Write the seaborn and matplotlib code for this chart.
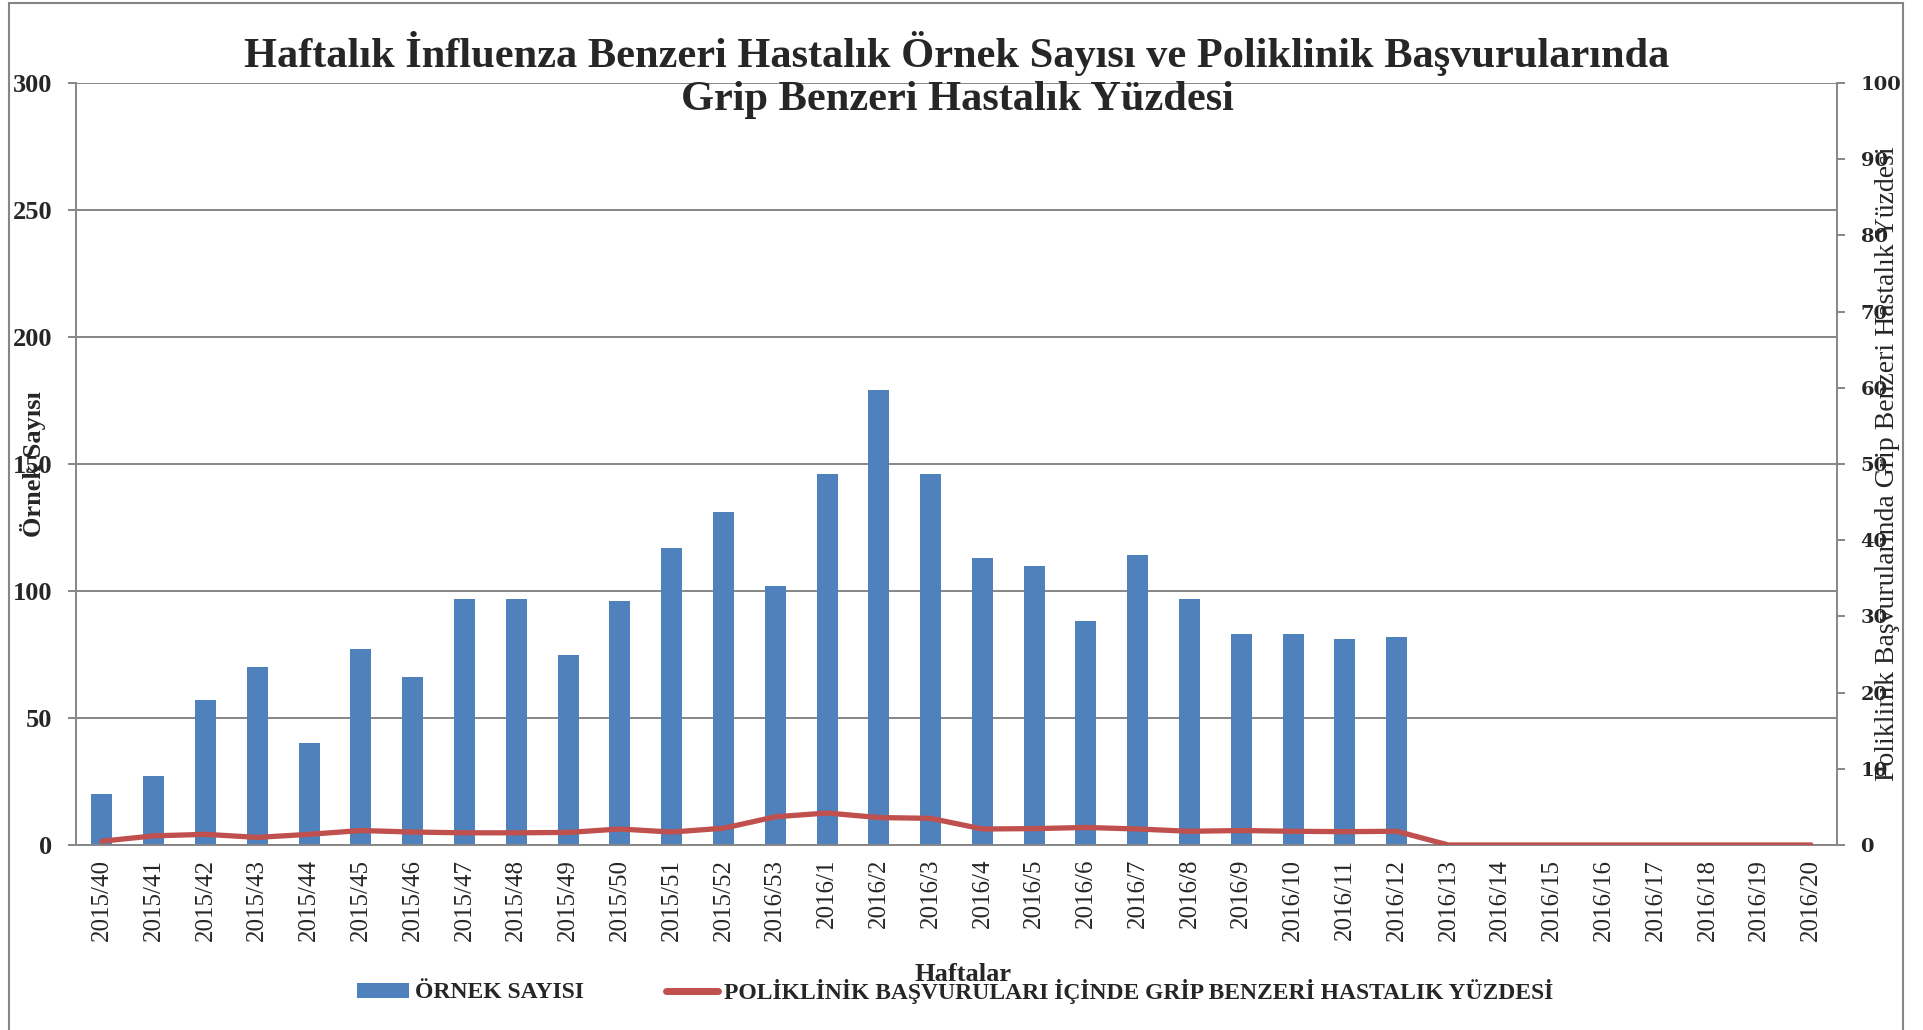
import numpy as np
import pandas as pd
import matplotlib
matplotlib.use("Agg")
import matplotlib.pyplot as plt
import seaborn as sns
from matplotlib.patches import Rectangle
from matplotlib.lines import Line2D
from matplotlib.patches import Patch

weeks = ["2015/40", "2015/41", "2015/42", "2015/43", "2015/44", "2015/45", "2015/46",
         "2015/47", "2015/48", "2015/49", "2015/50", "2015/51", "2015/52", "2016/53",
         "2016/1", "2016/2", "2016/3", "2016/4", "2016/5", "2016/6", "2016/7", "2016/8",
         "2016/9", "2016/10", "2016/11", "2016/12", "2016/13", "2016/14", "2016/15",
         "2016/16", "2016/17", "2016/18", "2016/19", "2016/20"]
sample_counts = [20, 27, 57, 70, 40, 77, 66, 97, 97, 75, 96, 117, 131, 102,
                 146, 179, 146, 113, 110, 88, 114, 97, 83, 83, 81, 82,
                 0, 0, 0, 0, 0, 0, 0, 0]
ili_percent = [0.5, 1.2, 1.4, 1.0, 1.4, 1.9, 1.7, 1.6, 1.6, 1.65, 2.1, 1.7, 2.2, 3.7,
               4.2, 3.6, 3.5, 2.1, 2.15, 2.3, 2.1, 1.8, 1.9, 1.8, 1.75, 1.8,
               0, 0, 0, 0, 0, 0, 0, 0]
left_ticks = [0, 50, 100, 150, 200, 250, 300]
right_ticks = [0, 10, 20, 30, 40, 50, 60, 70, 80, 90, 100]

title = ("Haftalık İnfluenza Benzeri Hastalık Örnek Sayısı ve Poliklinik Başvurularında\n"
         "Grip Benzeri Hastalık Yüzdesi")
bar_label = "ÖRNEK SAYISI"
line_label = "POLİKLİNİK BAŞVURULARI İÇİNDE GRİP BENZERİ HASTALIK YÜZDESİ"

sns.set_theme(style="white")
plt.rcParams["font.family"] = ["Liberation Serif", "DejaVu Serif"]

BLUE = "#4F81BD"
RED = "#C0504D"
GREY = "#868686"

df = pd.DataFrame({"week": weeks, "count": sample_counts, "pct": ili_percent})

fig = plt.figure(figsize=(19.24, 10.30), dpi=100)
ax = fig.add_axes([76 / 1924, 1 - 845 / 1030, (1837 - 76) / 1924, (845 - 83) / 1030])

sns.barplot(data=df, x="week", y="count", color=BLUE, saturation=1, width=0.405,
            linewidth=0, ax=ax)
ax.set_xlim(-0.5, len(weeks) - 0.5)
ax.set_ylim(0, 300)
ax.set_yticks(left_ticks)
ax.yaxis.grid(True, color=GREY, linewidth=1.4)
ax.xaxis.grid(False)
ax.set_axisbelow(True)
for s in ["top", "right"]:
    ax.spines[s].set_visible(False)
for s in ["left", "bottom"]:
    ax.spines[s].set_color(GREY)
    ax.spines[s].set_linewidth(1.4)
ax.tick_params(axis="y", which="major", direction="out", length=6, width=1.4,
               color=GREY, pad=11, labelsize=19, left=True)
ax.tick_params(axis="x", length=0, pad=10, labelsize=18, rotation=90)
for lab in ax.get_yticklabels():
    lab.set_fontweight("bold")
ax.set_xlabel("Haftalar", fontsize=19, fontweight="bold")
ax.xaxis.set_label_coords(0.504, -0.155)
ax.set_ylabel("Örnek Sayısı", fontsize=19, fontweight="bold", labelpad=-24)

ax2 = ax.twinx()
sns.lineplot(x=np.arange(len(weeks)), y=df["pct"], color=RED, linewidth=3.8, ax=ax2,
             solid_joinstyle="round", solid_capstyle="round")
ax2.set_ylim(0, 100)
ax2.set_yticks(right_ticks)
ax2.set_xlim(-0.5, len(weeks) - 0.5)
for s in ["top", "left", "bottom"]:
    ax2.spines[s].set_visible(False)
ax2.spines["right"].set_color(GREY)
ax2.spines["right"].set_linewidth(1.4)
ax2.tick_params(axis="y", direction="out", length=6, width=1.4, color=GREY, pad=11,
                labelsize=14, right=True)
for lab in ax2.get_yticklabels():
    lab.set_fontweight("bold")
    lab.set_family("DejaVu Serif")
ax2.set_ylabel("Poliklinik Başvurularında Grip Benzeri Hastalık Yüzdesi", fontsize=20,
               labelpad=-19)
ax2.grid(False)

fig.text(957 / 1924, 1 - 75 / 1030, title, ha="center", va="center", fontsize=30.5,
         fontweight="bold", linespacing=1.2)

handles = [Patch(facecolor=BLUE, edgecolor="none"),
           Line2D([0], [0], color=RED, linewidth=5, solid_capstyle="round")]
fig.legend(handles, [bar_label, line_label], loc="center",
           bbox_to_anchor=(955 / 1924, 1 - 991 / 1030), ncol=2, frameon=False,
           prop={"weight": "bold", "size": 17}, handlelength=2.2, handletextpad=0.25,
           columnspacing=3.5, handleheight=0.6)

fig.patches.append(Rectangle((9 / 1924, -0.05), (1903 - 9) / 1924, 1.05 - 3 / 1030,
                             transform=fig.transFigure, fill=False, edgecolor=GREY,
                             linewidth=1.5))

fig.savefig("out.png", dpi=100)
